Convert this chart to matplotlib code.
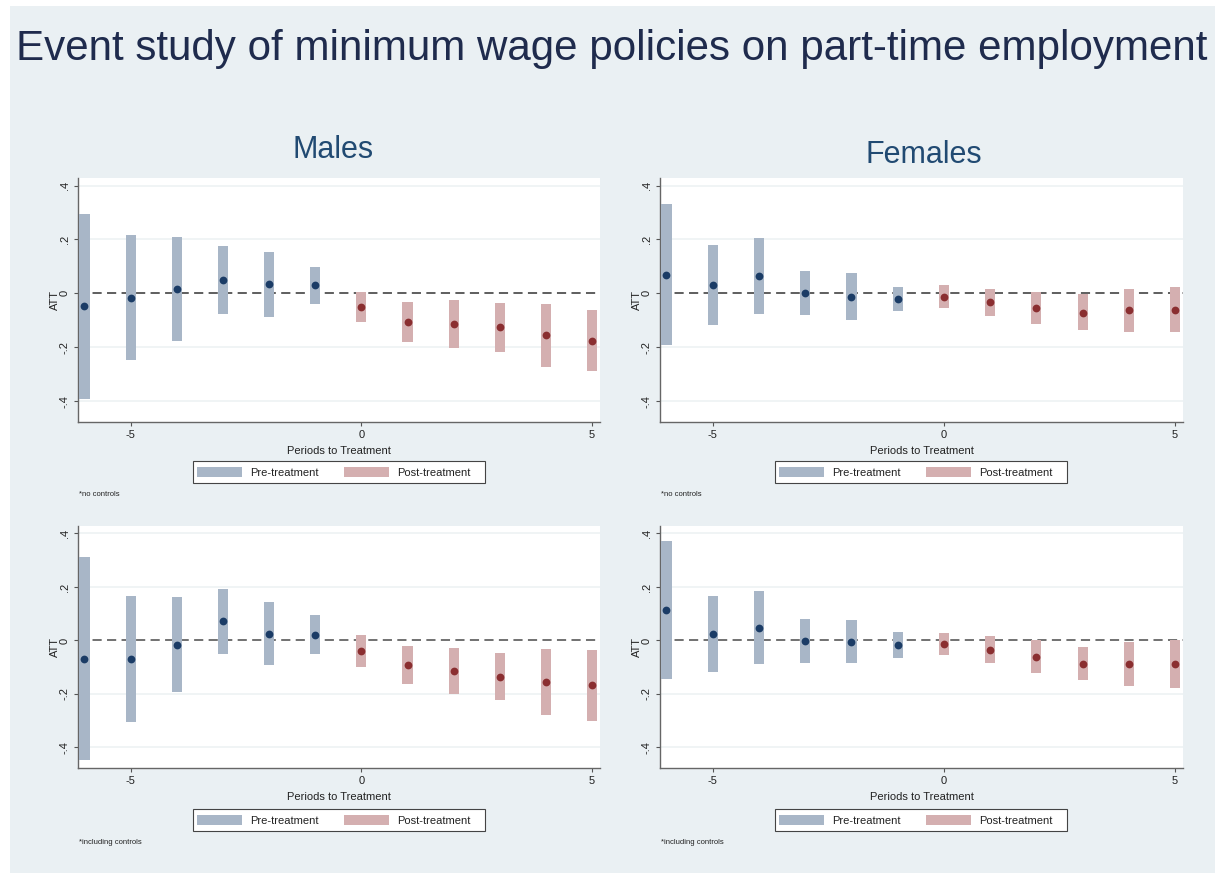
import matplotlib
matplotlib.use("Agg")
import matplotlib.pyplot as plt
from matplotlib.patches import Rectangle
import numpy as np

plt.rcParams['font.family'] = ['Liberation Sans', 'DejaVu Sans']

# Event-time periods relative to the policy change
periods = [-6, -5, -4, -3, -2, -1, 0, 1, 2, 3, 4, 5]

# Males, no controls
male_nc_att = [-0.048, -0.016, 0.018, 0.050, 0.035, 0.031, -0.050, -0.105, -0.113, -0.125, -0.156, -0.175]
male_nc_lo = [-0.390, -0.248, -0.177, -0.077, -0.086, -0.040, -0.107, -0.180, -0.202, -0.216, -0.273, -0.289]
male_nc_hi = [0.296, 0.215, 0.209, 0.174, 0.154, 0.099, 0.006, -0.032, -0.023, -0.036, -0.041, -0.061]

# Females, no controls
female_nc_att = [0.070, 0.030, 0.066, 0.000, -0.012, -0.021, -0.013, -0.033, -0.053, -0.071, -0.063, -0.061]
female_nc_lo = [-0.190, -0.117, -0.076, -0.080, -0.098, -0.067, -0.056, -0.083, -0.113, -0.136, -0.143, -0.145]
female_nc_hi = [0.331, 0.178, 0.206, 0.083, 0.076, 0.025, 0.030, 0.018, 0.006, -0.002, 0.016, 0.024]

# Males, including controls
male_c_att = [-0.068, -0.069, -0.016, 0.071, 0.025, 0.021, -0.041, -0.092, -0.114, -0.135, -0.156, -0.167]
male_c_lo = [-0.448, -0.305, -0.192, -0.050, -0.092, -0.052, -0.098, -0.161, -0.200, -0.223, -0.279, -0.300]
male_c_hi = [0.311, 0.166, 0.161, 0.191, 0.143, 0.096, 0.020, -0.021, -0.027, -0.046, -0.032, -0.035]

# Females, including controls
female_c_att = [0.113, 0.025, 0.048, -0.002, -0.005, -0.017, -0.015, -0.035, -0.061, -0.087, -0.088, -0.087]
female_c_lo = [-0.146, -0.118, -0.088, -0.083, -0.086, -0.065, -0.056, -0.084, -0.123, -0.149, -0.171, -0.177]
female_c_hi = [0.373, 0.167, 0.186, 0.081, 0.077, 0.030, 0.026, 0.015, 0.000, -0.026, -0.007, 0.001]

yticks = [-0.4, -0.2, 0, 0.2, 0.4]
ytick_labels = ["-.4", "-.2", "0", ".2", ".4"]
xticks = [-5, 0, 5]
xtick_labels = ["-5", "0", "5"]

title = "Event study of minimum wage policies on part-time employment"
col_titles = ["Males", "Females"]
notes = ["*no controls", "*including controls"]
legend_labels = ["Pre-treatment", "Post-treatment"]

W, H = 1227, 874
BG = "#eaf0f3"
PRE_BAR = "#a8b6c7"
PRE_PT = "#1b3c66"
POST_BAR = "#d4afb0"
POST_PT = "#8a2e30"
TXT = "#222222"

fig = plt.figure(figsize=(W / 100, H / 100), dpi=100, facecolor="white")

# light background panel behind everything
fig.patches.append(Rectangle((10 / W, 1 - 873 / H), 1205 / W, 867 / H,
                             transform=fig.transFigure, facecolor=BG,
                             edgecolor="none", zorder=-10))


def px_axes(x0, y0, x1, y1):
    return fig.add_axes([x0 / W, 1 - y1 / H, (x1 - x0) / W, (y1 - y0) / H])


def fx(x):
    return x / W


def fy(y):
    return 1 - y / H


fig.text(fx(612), fy(49), title, ha="center", va="center",
         fontsize=30.3, color="#1f2b4d")
fig.text(fx(333), fy(150), col_titles[0], ha="center", va="center",
         fontsize=22, color="#214a72")
fig.text(fx(924), fy(155), col_titles[1], ha="center", va="center",
         fontsize=22, color="#214a72")

panels = [
    (male_nc_att, male_nc_lo, male_nc_hi, (78, 178, 600, 422), 0),
    (female_nc_att, female_nc_lo, female_nc_hi, (660, 178, 1183, 422), 0),
    (male_c_att, male_c_lo, male_c_hi, (78, 526, 600, 768), 1),
    (female_c_att, female_c_lo, female_c_hi, (660, 526, 1183, 768), 1),
]

for att, lo, hi, (x0, y0, x1, y1), row in panels:
    ax = px_axes(x0, y0, x1, y1)
    ax.set_facecolor("white")
    ax.set_xlim(-6.14, 5.17)
    ax.set_ylim(-0.477, 0.428)
    for g in [-0.4, -0.2, 0.2, 0.4]:
        ax.axhline(g, color="#edf2f4", lw=1.2, zorder=1)
    ax.axhline(0, color="#333333" if row == 0 else "#4a4a4a", lw=1.1,
               ls=(0, (6, 3.5)), zorder=2)
    p = np.array(periods)
    a, l, h = np.array(att), np.array(lo), np.array(hi)
    pre = p < 0
    post = ~pre
    ax.bar(p[pre], h[pre] - l[pre], bottom=l[pre], width=0.22,
           color=PRE_BAR, edgecolor="none", zorder=3)
    ax.bar(p[post], h[post] - l[post], bottom=l[post], width=0.22,
           color=POST_BAR, edgecolor="none", zorder=3)
    ax.plot(p[pre], a[pre], "o", color=PRE_PT, ms=5.6, mec="none", zorder=4)
    ax.plot(p[post], a[post], "o", color=POST_PT, ms=5.6, mec="none", zorder=4)

    ax.set_yticks(yticks)
    ax.set_yticklabels(ytick_labels, rotation=90, va="center", fontsize=8, color=TXT)
    ax.set_xticks(xticks)
    ax.set_xticklabels(xtick_labels, fontsize=8, color=TXT)
    ax.tick_params(axis="both", length=3, width=0.8, color="#555555", pad=3)
    for s in ["top", "right"]:
        ax.spines[s].set_visible(False)
    for s in ["left", "bottom"]:
        ax.spines[s].set_color("#666666")
        ax.spines[s].set_linewidth(1.0)
    ax.set_ylabel("ATT", fontsize=8, color=TXT, labelpad=0)
    ax.set_xlabel("Periods to Treatment", fontsize=8, color=TXT, labelpad=4)

    # legend box beneath each panel
    off = x0 - 78
    ly0 = 461 if row == 0 else 809
    fig.patches.append(Rectangle((fx(193 + off), fy(ly0 + 22)), 292 / W, 22 / H,
                                 transform=fig.transFigure, facecolor="white",
                                 edgecolor="#444444", lw=0.8, zorder=5))
    fig.patches.append(Rectangle((fx(197 + off), fy(ly0 + 16)), 45 / W, 10 / H,
                                 transform=fig.transFigure, facecolor=PRE_BAR,
                                 edgecolor="none", zorder=6))
    fig.patches.append(Rectangle((fx(344 + off), fy(ly0 + 16)), 45 / W, 10 / H,
                                 transform=fig.transFigure, facecolor=POST_BAR,
                                 edgecolor="none", zorder=6))
    fig.text(fx(250 + off), fy(ly0 + 12), legend_labels[0], ha="left",
             va="center", fontsize=8, color=TXT, zorder=7)
    fig.text(fx(397 + off), fy(ly0 + 12), legend_labels[1], ha="left",
             va="center", fontsize=8, color=TXT, zorder=7)
    fig.text(fx(79 + off), fy(495 if row == 0 else 842), notes[row],
             ha="left", va="center", fontsize=5.5, color=TXT)

fig.savefig("out.png", dpi=100, facecolor="white")
